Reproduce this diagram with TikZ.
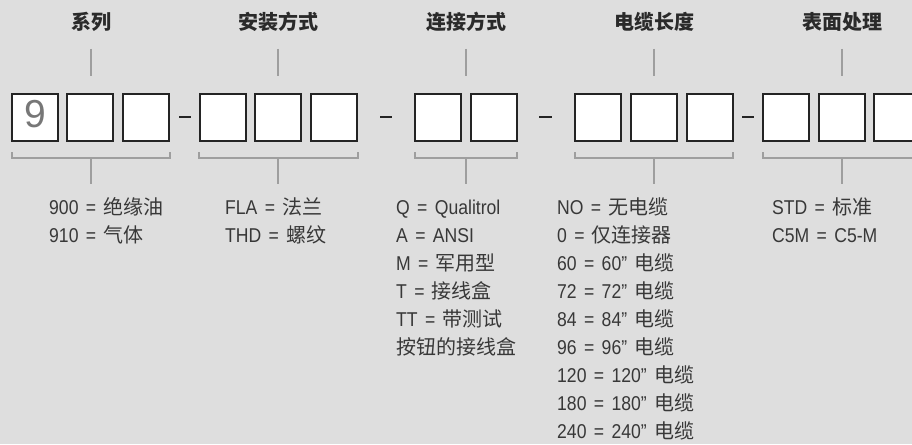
\documentclass[tikz,border=0pt]{standalone}
\usepackage{fontspec}
\setmainfont{Liberation Sans}[FakeStretch=0.88, WordSpace=1.5]
\newfontfamily\plainsans{Liberation Sans}
\newfontfamily\cjk{Noto Sans CJK SC}
\newcommand\zh[1]{{\cjk #1}}
\definecolor{bgc}{HTML}{DEDEDE}
\definecolor{boxc}{HTML}{242424}
\definecolor{linec}{HTML}{9E9E9E}
\definecolor{txtc}{HTML}{383838}
\definecolor{titc}{HTML}{2A2A2A}
\definecolor{ninec}{HTML}{777777}
\tikzset{
  digitbox/.style={draw=boxc, line width=2pt, fill=white, minimum width=46pt, minimum height=47pt, inner sep=0pt, outer sep=0pt},
  sepdash/.style={draw=boxc, line width=2.6pt},
  guide/.style={draw=linec, line width=1.5pt},
  title/.style={text=titc, font=\cjk\bfseries\fontsize{20}{24}\selectfont, inner sep=0pt},
  opttext/.style={text=txtc, font=\fontsize{20}{28}\selectfont, align=left, inner sep=0pt, anchor=base west},
}
\begin{document}
\begin{tikzpicture}[x=1pt,y=-1pt]
\useasboundingbox (0,0) rectangle (912,444);
\clip (0,0) rectangle (912,444);
\fill[bgc] (0,0) rectangle (912,444);

% titles
\node[title] (t1) at (91,22) {系列};
\node[title] (t2) at (278,22) {安装方式};
\node[title] (t3) at (466,22) {连接方式};
\node[title] (t4) at (654,22) {电缆长度};
\node[title] (t5) at (842,22) {表面处理};

% boxes
\node[digitbox] (a1) at (35,117.5) {};
\node[digitbox] (a2) at (90,117.5) {};
\node[digitbox] (a3) at (146,117.5) {};
\node[digitbox] (b1) at (222.5,117.5) {};
\node[digitbox] (b2) at (278,117.5) {};
\node[digitbox] (b3) at (334,117.5) {};
\node[digitbox] (c1) at (438,117.5) {};
\node[digitbox] (c2) at (494,117.5) {};
\node[digitbox] (d1) at (598,117.5) {};
\node[digitbox] (d2) at (654,117.5) {};
\node[digitbox] (d3) at (709.5,117.5) {};
\node[digitbox] (e1) at (786,117.5) {};
\node[digitbox] (e2) at (842,117.5) {};
\node[digitbox] (e3) at (897,117.5) {};
\node[text=ninec, font=\plainsans\fontsize{39}{39}\selectfont, inner sep=0pt, yshift=3.5pt] (nine) at (a1.center) {9};

% dashes
\draw[sepdash] (179,117) -- (191,117);
\draw[sepdash] (380,117) -- (392,117);
\draw[sepdash] (539,117) -- (552,117);
\draw[sepdash] (742,117) -- (754,117);

% top guides
\draw[guide] (t1.center |- 0,49) -- (t1.center |- 0,76);
\draw[guide] (t2.center |- 0,49) -- (t2.center |- 0,76);
\draw[guide] (t3.center |- 0,49) -- (t3.center |- 0,76);
\draw[guide] (t4.center |- 0,49) -- (t4.center |- 0,76);
\draw[guide] (t5.center |- 0,49) -- (t5.center |- 0,76);

% brackets
\draw[guide] (12,152) -- (12,158) -- (170,158) -- (170,152);
\draw[guide] (91,158) -- (91,184);
\draw[guide] (199,152) -- (199,158) -- (358,158) -- (358,152);
\draw[guide] (278,158) -- (278,184);
\draw[guide] (415,152) -- (415,158) -- (517,158) -- (517,152);
\draw[guide] (466,158) -- (466,184);
\draw[guide] (575,152) -- (575,158) -- (733,158) -- (733,152);
\draw[guide] (654,158) -- (654,184);
\draw[guide] (763,152) -- (763,158) -- (920,158) -- (920,152);
\draw[guide] (842,158) -- (842,184);

% option texts (anchored at the baseline of their last line)
\node[opttext] (o1) at (49,242) {900 = \zh{绝缘油}\\910 = \zh{气体}};
\node[opttext] (o2) at (225,242) {FLA = \zh{法兰}\\THD = \zh{螺纹}};
\node[opttext] (o3) at (396,354) {Q = Qualitrol\\A = ANSI\\M = \zh{军用型}\\T = \zh{接线盒}\\TT = \zh{带测试}\\\zh{按钮的接线盒}};
\node[opttext] (o4) at (557,438) {NO = \zh{无电缆}\\0 = \zh{仅连接器}\\60 = 60” \zh{电缆}\\72 = 72” \zh{电缆}\\84 = 84” \zh{电缆}\\96 = 96” \zh{电缆}\\120 = 120” \zh{电缆}\\180 = 180” \zh{电缆}\\240 = 240” \zh{电缆}};
\node[opttext] (o5) at (772,242) {STD = \zh{标准}\\C5M = C5-M};
\end{tikzpicture}
\end{document}
